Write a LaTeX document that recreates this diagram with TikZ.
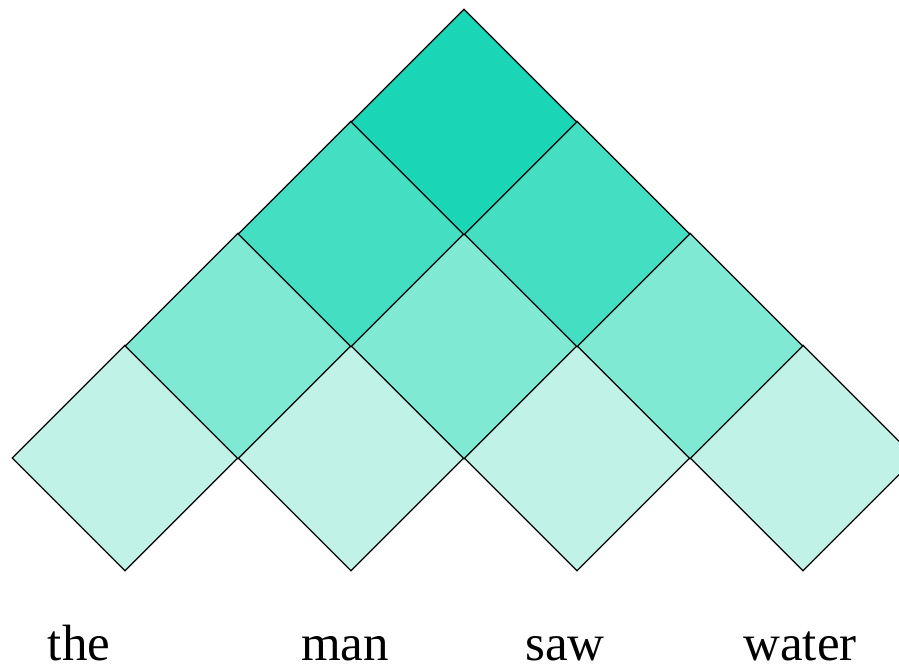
\documentclass[tikz,border=0pt]{standalone}
\usepackage{fontspec}
\setmainfont{Liberation Serif}
\usetikzlibrary{shapes.geometric}
\definecolor{cellA}{HTML}{C0F2E8}
\definecolor{cellB}{HTML}{80E9D4}
\definecolor{cellC}{HTML}{44DEC2}
\definecolor{cellD}{HTML}{1BD6B6}
\tikzset{
  cell/.style={draw=black,line width=1.3pt,shape=diamond,aspect=1,inner sep=0pt,minimum width=226pt,minimum height=226pt},
  word/.style={font=\fontsize{51}{58}\selectfont,inner sep=0pt,anchor=base}
}
\begin{document}
\begin{tikzpicture}[x=1pt,y=1pt]
  \useasboundingbox (0,0) rectangle (899,666);
  % chart cells, one row per span length
  \foreach \r/\n/\c in {0/3/cellA,1/2/cellB,2/1/cellC,3/0/cellD}{
    \foreach \i in {0,...,\n}{
      \node[cell,fill=\c] (c\r\i) at ({125+113*\r+226*\i},{208+112*\r}) {};
    }
  }
  % words
  \node[word] (w1) at (79,5) {the};
  \node[word] (w2) at (345,5) {man};
  \node[word] (w3) at (565,5) {saw};
  \node[word] (w4) at (800,5) {water};
\end{tikzpicture}
\end{document}
